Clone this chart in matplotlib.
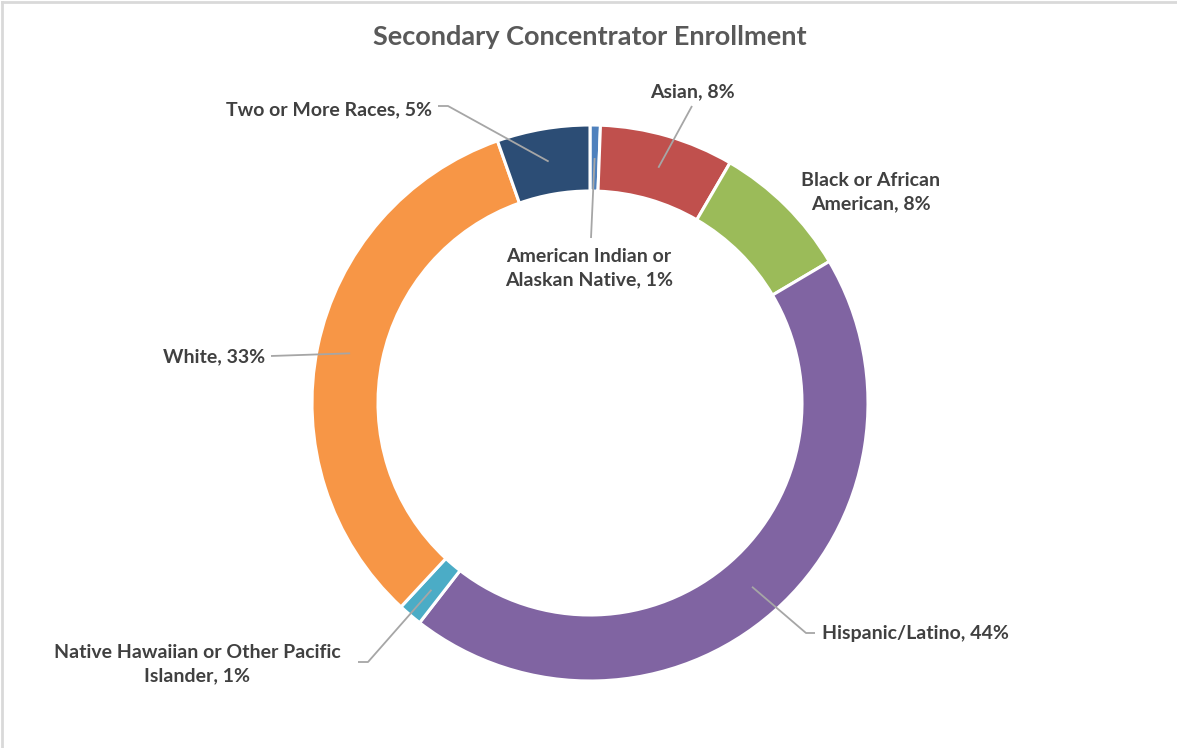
import numpy as np
import matplotlib
matplotlib.use('Agg')
import matplotlib.pyplot as plt

# data, clockwise from 12 o'clock
groups = ['American Indian or\nAlaskan Native', 'Asian', 'Black or African\nAmerican',
          'Hispanic/Latino', 'Native Hawaiian or Other Pacific\nIslander', 'White',
          'Two or More Races']
shares = [0.6, 7.8, 8.1, 44.0, 1.4, 32.7, 5.4]
pct_labels = ['1%', '8%', '8%', '44%', '1%', '33%', '5%']
colors = ['#4F81BD', '#C0504D', '#9BBB59', '#8064A2', '#4BACC6', '#F79646', '#2C4D75']

W, H = 1177, 748
fig = plt.figure(figsize=(W / 100, H / 100), dpi=100)

cx, cy = 590, 403
r_out, r_in = 278, 212

# pie on a normal-y axes underneath
pax = fig.add_axes([0, 0, 1, 1])
pax.pie(shares, colors=colors, radius=r_out, center=(cx, H - cy),
        startangle=90, counterclock=False,
        wedgeprops=dict(width=r_out - r_in, edgecolor='white', linewidth=2.2))
pax.set_xlim(0, W)
pax.set_ylim(0, H)
pax.set_aspect('equal')
pax.axis('off')

# overlay axes for labels and leader lines (pixel coords, y down)
ax = fig.add_axes([0, 0, 1, 1], zorder=5)
ax.set_xlim(0, W)
ax.set_ylim(H, 0)
ax.patch.set_alpha(0)
ax.axis('off')

# anchor points inside each wedge
cum = np.cumsum([0] + shares[:-1])
mids = (cum + np.array(shares) / 2) / sum(shares) * 360
r_mid = 245
anchors = [(cx + r_mid * np.sin(np.radians(a)), cy - r_mid * np.cos(np.radians(a))) for a in mids]

font = 'Lato'
lab_color = '#404040'
line_color = '#A6A6A6'
fs = 14

# label positions and leader line bends (layout)
layout = {
    0: dict(xy=(589, 268), ha='center', line=[(591, 238)]),
    1: dict(xy=(692, 92), ha='center', line=[(692, 106)]),
    2: dict(xy=(871, 192), ha='center', line=None),
    3: dict(xy=(822, 634), ha='left', line=[(806, 633), (815, 633)]),
    4: dict(xy=(197, 664), ha='center', line=[(368, 662), (358, 662)]),
    5: dict(xy=(265, 357), ha='right', line=[(271, 356)]),
    6: dict(xy=(432, 110), ha='right', line=[(448, 106), (438, 106)]),
}

for i, name in enumerate(groups):
    lay = layout[i]
    ax.text(lay['xy'][0], lay['xy'][1], f'{name}, {pct_labels[i]}', ha=lay['ha'],
            va='center', fontsize=fs, fontweight='bold', color=lab_color,
            family=font, linespacing=1.5, multialignment='center')
    if lay['line']:
        pts = [anchors[i]] + lay['line']
        xs, ys = zip(*pts)
        ax.plot(xs, ys, color=line_color, lw=1.3, solid_capstyle='butt')

ax.text(590, 37, 'Secondary Concentrator Enrollment', ha='center', va='center',
        fontsize=19.5, fontweight='bold', color='#595959', family=font)

# chart frame
ax.plot([1.5, 1.5], [1.5, H], color='#D9D9D9', lw=2)
ax.plot([1.5, W], [1.5, 1.5], color='#D9D9D9', lw=2)

fig.savefig('out.png', dpi=100)
